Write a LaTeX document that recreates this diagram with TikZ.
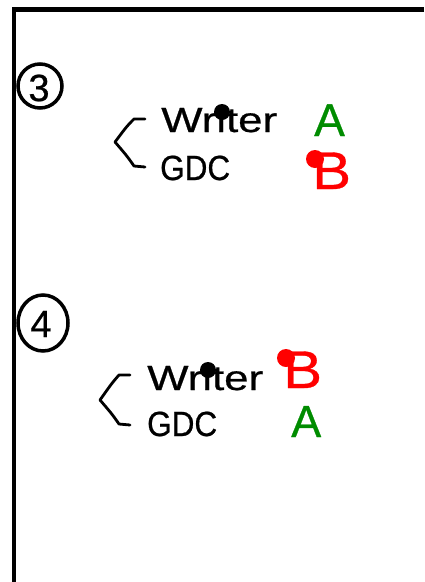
\documentclass[tikz,border=0pt]{standalone}
\usepackage{fontspec}
\setmainfont[FakeBold=0.6]{Liberation Sans}
\definecolor{hgreen}{RGB}{0,140,0}
\definecolor{hred}{RGB}{255,0,0}
\begin{document}
\begin{tikzpicture}[x=1pt,y=-1pt,
  frame/.style={line width=4.5pt},
  ring/.style={line width=3.5pt},
  bracestroke/.style={line width=2.8pt, line cap=round, line join=round},
  word/.style={anchor=base west, inner sep=0pt, font=\fontsize{35}{35}\selectfont},
  grade/.style={anchor=base west, inner sep=0pt},
  blackdot/.style={circle, fill=black, inner sep=0pt, minimum size=16pt},
  reddot/.style={circle, fill=hred, inner sep=0pt, minimum size=18pt}]
\useasboundingbox (0,0) rectangle (424,582);
% frame
\draw[frame] (424,9.3) -- (14,9.3) -- (14,582);
% section 3
\draw[ring] (40,86) ellipse [x radius=22, y radius=22];
\node[inner sep=0pt, font=\fontsize{38}{38}\selectfont] (n3) at (39,88) {3};
\draw[bracestroke] (145,119) -- (134,119) .. controls (127,126) .. (115,142)
   .. controls (127,156) .. (134,166) -- (145,167);
\node[word, xscale=1.25] (w3) at (161,132) {Writer};
\node[blackdot] (d3) at (222,112) {};
\node[word, xscale=0.9] (g3) at (160,180) {GDC};
\node[grade, text=hgreen, font=\fontsize{46}{46}\selectfont] (a3) at (314,136) {A};
\node[grade, text=hred, font=\fontsize{53}{53}\selectfont, xscale=1.1] (b3) at (312,189) {B};
\node[reddot] (r3) at (315,159) {};
% section 4
\draw[ring] (43,323) ellipse [x radius=25, y radius=28];
\node[inner sep=0pt, font=\fontsize{38}{38}\selectfont] (n4) at (41,324) {4};
\draw[bracestroke] (130,375) -- (119,375) .. controls (112,383) .. (100,400)
   .. controls (112,414) .. (119,424) -- (130,425);
\node[word, xscale=1.25] (w4) at (147,390) {Writer};
\node[blackdot] (d4) at (208,370) {};
\node[word, xscale=0.9] (g4) at (147,436) {GDC};
\node[grade, text=hred, font=\fontsize{53}{53}\selectfont, xscale=1.1] (b4) at (283,388) {B};
\node[reddot] (r4) at (286,358) {};
\node[grade, text=hgreen, font=\fontsize{45}{45}\selectfont] (a4) at (291,437) {A};
\end{tikzpicture}
\end{document}
